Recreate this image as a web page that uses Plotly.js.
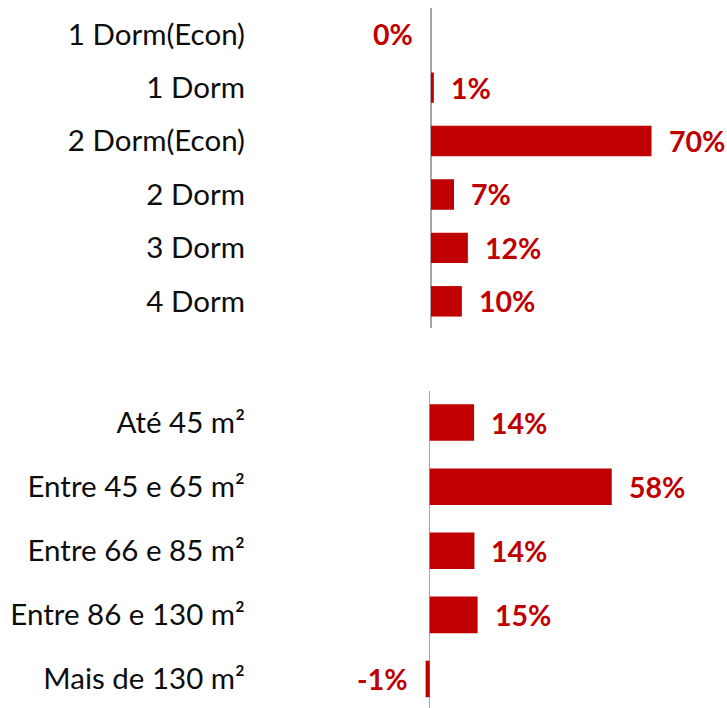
<!DOCTYPE html>
<html>
<head>
<meta charset="utf-8">
<script src="https://cdn.plot.ly/plotly-3.0.1.min.js"></script>
<style>html,body{margin:0;padding:0;background:#fff;}#chart{width:727px;height:708px;}</style>
</head>
<body>
<div id="chart"></div>
<script>
// Top panel: bedrooms
const topCategories = ["1 Dorm(Econ)", "1 Dorm", "2 Dorm(Econ)", "2 Dorm", "3 Dorm", "4 Dorm"];
const topValues = [0, 0.9, 70, 7.3, 11.7, 9.8];
const topLabels = ["0%", "1%", "70%", "7%", "12%", "10%"];

// Bottom panel: area ranges
const bottomCategories = ["Até 45 m²", "Entre 45 e 65 m²", "Entre 66 e 85 m²", "Entre 86 e 130 m²", "Mais de 130 m²"];
const bottomValues = [14.1, 57.8, 14.2, 15.2, -1.3];
const bottomLabels = ["14%", "58%", "14%", "15%", "-1%"];

const RED = "#C00000";
const FONT = "Lato, 'Open Sans', sans-serif";

const traces = [
  {type: "bar", orientation: "h", x: topValues, y: topCategories, xaxis: "x", yaxis: "y",
   marker: {color: RED}, width: 0.57, hoverinfo: "skip"},
  {type: "bar", orientation: "h", x: bottomValues, y: bottomCategories, xaxis: "x2", yaxis: "y2",
   marker: {color: RED}, width: 0.57, hoverinfo: "skip"}
];

function labelAnnotations(vals, cats, labels, xref, yref) {
  return vals.map((v, i) => ({
    x: v, y: cats[i], xref: xref, yref: yref, text: labels[i], showarrow: false,
    xanchor: v > 0 ? "left" : "right", xshift: v > 0 ? 15 : -16, yanchor: "middle",
    font: {family: FONT, size: 28.5, color: RED, weight: "bold"}
  }));
}

const annotations = labelAnnotations(topValues, topCategories, topLabels, "x", "y")
  .concat(labelAnnotations(bottomValues, bottomCategories, bottomLabels, "x2", "y2"));

const xCommon = {showgrid: false, showticklabels: false, ticks: "", showline: false,
  zeroline: true, zerolinecolor: "#A6A6A6", zerolinewidth: 1.5, fixedrange: true};
const yCommon = {type: "category", showgrid: false, showline: false, zeroline: false, ticks: "",
  anchor: "free", position: 0.337,
  tickfont: {family: FONT, size: 29.5, color: "#0d0d0d"}};

const layout = {
  width: 727, height: 708,
  margin: {l: 0, r: 0, t: 0, b: 0},
  paper_bgcolor: "#fff", plot_bgcolor: "rgba(0,0,0,0)",
  showlegend: false,
  xaxis: Object.assign({}, xCommon, {domain: [0, 1], range: [-136.83, 93.97], anchor: "y"}),
  xaxis2: Object.assign({}, xCommon, {domain: [0, 1], range: [-136.41, 94.38], anchor: "y2"}),
  yaxis: Object.assign({}, yCommon, {domain: [0.5367, 0.9894], range: [5.5, -0.5]}),
  yaxis2: Object.assign({}, yCommon, {domain: [0, 0.4484], range: [4.453, -0.5]}),
  annotations: annotations
};

Plotly.newPlot("chart", traces, layout, {staticPlot: true, displayModeBar: false});
</script>
</body>
</html>
